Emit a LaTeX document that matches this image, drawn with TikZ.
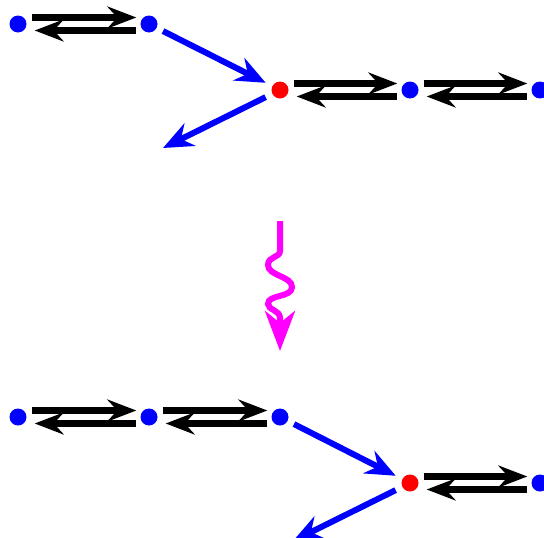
\documentclass[tikz,border=0pt]{standalone}
\usetikzlibrary{arrows.meta,calc}
\definecolor{mag}{rgb}{1,0,1}
\definecolor{pblue}{rgb}{0,0,1}
\definecolor{pred}{rgb}{1,0,0}
\begin{document}
\begin{tikzpicture}[x=1pt,y=-1pt,
  bdot/.style={circle,fill=pblue,inner sep=0pt,minimum size=17pt},
  rdot/.style={circle,fill=pred,inner sep=0pt,minimum size=17pt},
  eqline/.style={line width=7pt,-{Stealth[length=29pt,width=22pt,inset=10pt]}},
  bluearr/.style={pblue,line width=6pt,-{Stealth[length=30pt,width=25pt,inset=10pt]}},
  magarr/.style={mag,line width=6pt,-{Stealth[length=40pt,width=30pt,inset=12pt]}}]
\useasboundingbox (0,0) rectangle (544,538);
\clip (0,0) rectangle (544,538);
% top configuration
\node[bdot] (a1) at (18,24) {};
\node[bdot] (a2) at (149,24) {};
\node[rdot] (a3) at (280,90) {};
\node[bdot] (a4) at (410,90) {};
\node[bdot] (a5) at (540,90) {};
\coordinate (ae) at (163,148);
% bottom configuration
\node[bdot] (b1) at (18,417) {};
\node[bdot] (b2) at (149,417) {};
\node[bdot] (b3) at (280,417) {};
\node[rdot] (b4) at (410,483) {};
\node[bdot] (b5) at (540,483) {};
\coordinate (be) at (293,541);
% magenta transition
\coordinate (m1) at (280,221);
\coordinate (m2) at (280,351);
% double arrows
\foreach \p/\q in {a1/a2,a3/a4,a4/a5,b1/b2,b2/b3,b4/b5}{
  \draw[eqline,shorten <=5pt] ([yshift=6.5pt]\p.east) -- ([yshift=6.5pt,xshift=-4pt]\q.west);
  \draw[eqline,shorten <=4pt] ([yshift=-6.5pt]\q.west) -- ([yshift=-6.5pt,xshift=8pt]\p.east);
}
% blue arrows
\draw[bluearr,shorten <=7pt] (a2) -- ($(a3)!16pt!(a2)$);
\draw[bluearr] ($(a3)!16pt!(ae)$) -- (ae);
\draw[bluearr,shorten <=7pt] (b3) -- ($(b4)!16pt!(b3)$);
\draw[bluearr] ($(b4)!16pt!(be)$) -- (be);
% squiggle
\draw[magarr] (m1) -- (280,251) .. controls (280,258) and (268,256) .. (268,265)
  .. controls (268,276) and (292,276) .. (292,287)
  .. controls (292,298) and (268,294) .. (268,304)
  .. controls (268,310) and (280,310) .. (280,318) -- (m2);
\end{tikzpicture}
\end{document}
